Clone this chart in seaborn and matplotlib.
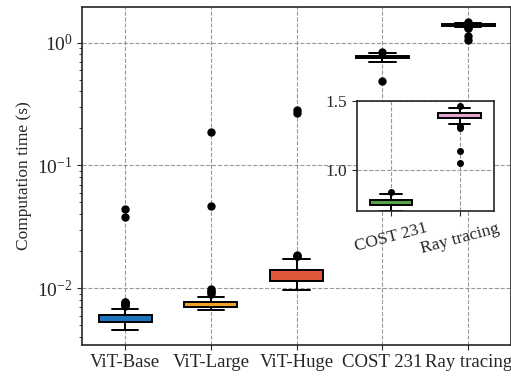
import numpy as np
import pandas as pd
import seaborn as sns
import matplotlib.pyplot as plt

models = ['ViT-Base', 'ViT-Large', 'ViT-Huge', 'COST 231', 'Ray tracing']
colors = ['#1f74bf', '#f2a22a', '#e0583a', '#52a445', '#e3a6cc']

# box statistics (seconds)
whisker_lo = [0.0046, 0.0067, 0.00968, 0.70, 1.33]
q1 = [0.00535, 0.00708, 0.01147, 0.745, 1.375]
median = [0.0057, 0.0074, 0.0128, 0.762, 1.39]
q3 = [0.00606, 0.00778, 0.01409, 0.78, 1.41]
whisker_hi = [0.0068, 0.0085, 0.01722, 0.825, 1.45]
outliers = [
    [0.0072, 0.0073, 0.0074, 0.0075, 0.0076, 0.0077, 0.0078, 0.0383, 0.0440],
    [0.0090, 0.0093, 0.0096, 0.0099, 0.0465, 0.186],
    [0.0182, 0.0184, 0.0186, 0.268, 0.283],
    [0.49, 0.84],
    [1.05, 1.14, 1.305, 1.318, 1.466],
]


# 把箱线统计量展开成样本, 使四分位数正好落在读出的值上
def samples(lo, a, m, b, hi, out):
    low = sorted(v for v in out if v < a)
    high = sorted(v for v in out if v > b)
    k = max(len(low), len(high)) + 1
    vals = low + [lo] + [a] * (k - len(low))
    vals += [m] * k + [b] * k
    vals += [b] * (k - len(high) - 1) + [hi] + high
    return vals


rows = []
for i, name in enumerate(models):
    for v in samples(whisker_lo[i], q1[i], median[i], q3[i], whisker_hi[i], outliers[i]):
        rows.append((name, v))
df = pd.DataFrame(rows, columns=['model', 'time'])

sns.set_style('ticks')
plt.rcParams['font.family'] = ['Liberation Serif', 'DejaVu Serif']
plt.rcParams['mathtext.fontset'] = 'stix'
plt.rcParams['axes.linewidth'] = 1.2

fig = plt.figure(figsize=(5.11, 3.77), dpi=100)
ax = fig.add_axes([0.161, 0.086, 0.839, 0.895])

box_kw = dict(width=0.62, linecolor='black', linewidth=1.4, fliersize=5, saturation=1,
              flierprops=dict(marker='o', markerfacecolor='black', markeredgecolor='black'),
              medianprops=dict(visible=False), legend=False)

sns.boxplot(data=df, x='model', y='time', hue='model', order=models,
            palette=dict(zip(models, colors)), ax=ax, **box_kw)
ax.set_yscale('log')
ax.set_ylim(0.00349, 1.94)
ax.set_xlim(-0.5, 4.5)
ax.set_xlabel('')
ax.set_ylabel('Computation time (s)', fontsize=12.5)
ax.tick_params(axis='x', labelsize=13.5)
ax.tick_params(axis='y', labelsize=14)
ax.grid(True, ls='--', color='gray', lw=0.8, alpha=0.8)
ax.set_axisbelow(True)

# 局部放大
sub = df[df['model'].isin(models[3:])]
axin = fig.add_axes([0.698, 0.441, 0.269, 0.291])
sns.boxplot(data=sub, x='model', y='time', hue='model', order=models[3:],
            palette=dict(zip(models[3:], colors[3:])), ax=axin,
            **{**box_kw, 'fliersize': 4})
axin.set_ylim(0.705, 1.5)
axin.set_xlim(-0.5, 1.5)
axin.set_yticks([1.0, 1.5])
axin.set_xlabel('')
axin.set_ylabel('')
axin.tick_params(axis='both', labelsize=12.5)
axin.tick_params(axis='x', labelrotation=15)
axin.grid(True, ls='--', color='gray', lw=0.8, alpha=0.8)
axin.set_axisbelow(True)

plt.savefig('out.png', dpi=100)
